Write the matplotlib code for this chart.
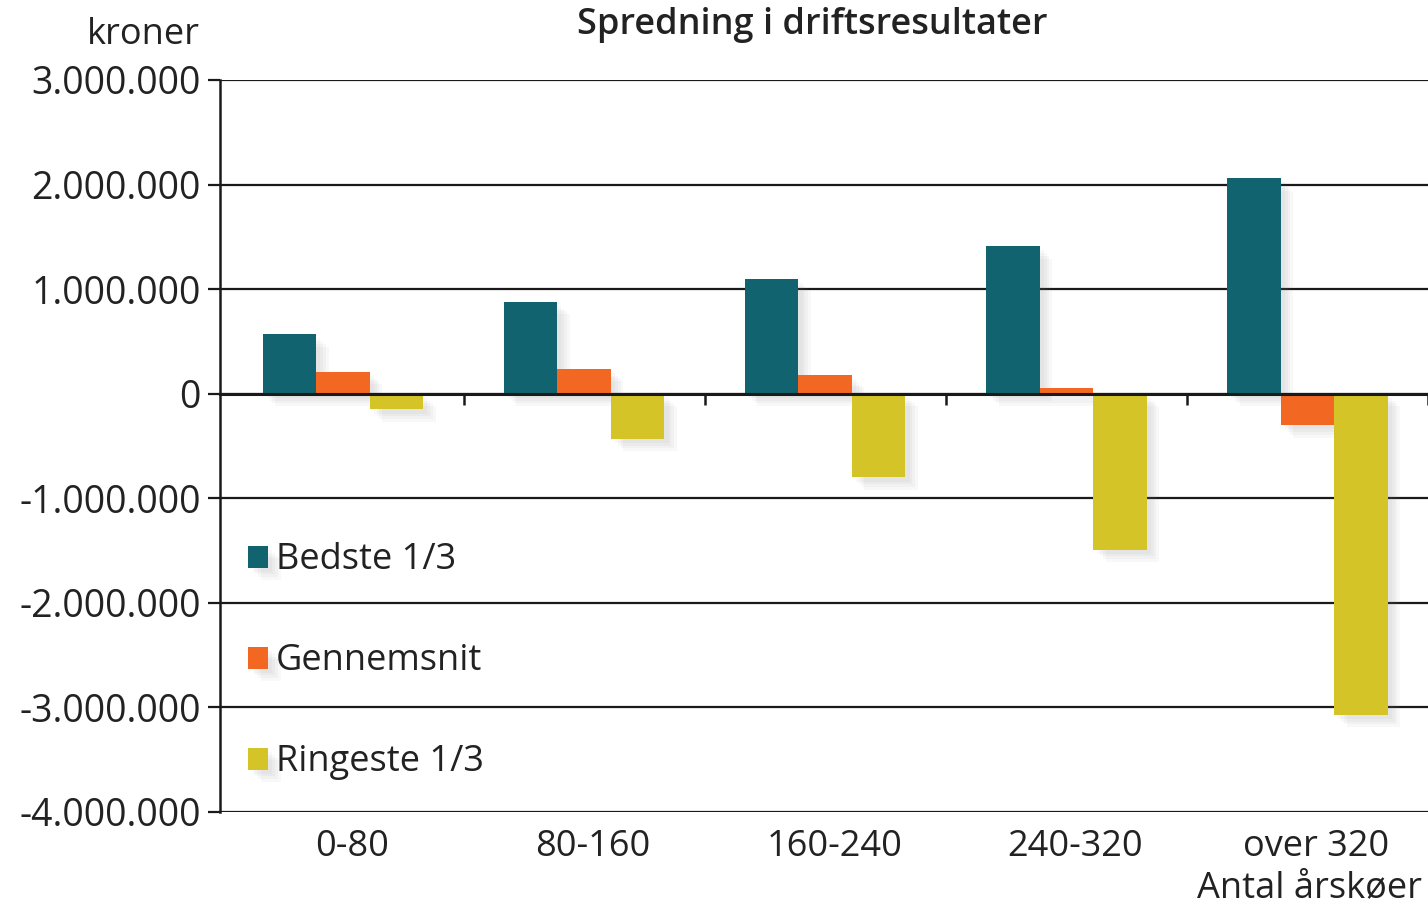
import matplotlib.pyplot as plt
import matplotlib.patheffects as pe
import matplotlib.transforms as mtransforms
import numpy as np

# Data
groups = ['0-80', '80-160', '160-240', '240-320', 'over 320']
bedste = [570000, 880000, 1100000, 1410000, 2060000]
gennemsnit = [210000, 240000, 180000, 50000, -300000]
ringeste = [-150000, -430000, -800000, -1490000, -3070000]
series_names = ['Bedste 1/3', 'Gennemsnit', 'Ringeste 1/3']
colors = ['#10636f', '#f26722', '#d4c428']
yticks = [3000000, 2000000, 1000000, 0, -1000000, -2000000, -3000000, -4000000]
ytick_labels = ['3.000.000', '2.000.000', '1.000.000', '0',
                '-1.000.000', '-2.000.000', '-3.000.000', '-4.000.000']

plt.rcParams['font.family'] = ['Open Sans', 'DejaVu Sans']
txt = '#222222'

fig = plt.figure(figsize=(14.28, 9.09), dpi=100)
ax = fig.add_axes([220 / 1428, 1 - 812 / 909, 1 - 220 / 1428, (812 - 80) / 909])

# soft-ish shadow: a few faint offset copies
shadow = [pe.SimplePatchShadow(offset=(d, -d), shadow_rgbFace='#7a7a7a', alpha=0.05)
          for d in (9, 7, 5, 3)] + [pe.Normal()]

x = np.arange(len(groups))
w = 0.222
for i, (vals, name, c) in enumerate(zip([bedste, gennemsnit, ringeste], series_names, colors)):
    b = ax.bar(x + (i - 1) * w, vals, width=w, color=c, label=name, zorder=1)
    for p in b:
        p.set_path_effects(shadow)

ax.set_xlim(-0.51, 4.5)
ax.set_ylim(-4000000, 3000000)
ax.set_yticks(yticks)
ax.set_yticklabels(ytick_labels)
ax.set_axisbelow(True)
ax.yaxis.grid(True, color='#1a1a1a', linewidth=1.6)

ax.spines['top'].set_visible(False)
ax.spines['right'].set_visible(False)
ax.spines['left'].set_linewidth(1.8)
ax.spines['left'].set_color('#1a1a1a')
ax.spines['bottom'].set_position(('data', 0))
ax.spines['bottom'].set_linewidth(2.2)
ax.spines['bottom'].set_color('#1a1a1a')
ax.spines['bottom'].set_zorder(3)

ax.set_xticks(x + 0.5)
ax.set_xticklabels([])
ax.tick_params(axis='x', direction='out', length=8, width=1.8, color='#1a1a1a')
ax.tick_params(axis='y', direction='out', length=9, width=1.6, color='#1a1a1a',
               labelsize=27, labelcolor=txt, pad=5)

# category labels sit a little right of the group centres
lab_tr = ax.get_xaxis_transform() + mtransforms.ScaledTranslation(0.09, 0, fig.dpi_scale_trans)
for i, g in enumerate(groups):
    ax.text(i, -0.048, g, transform=lab_tr, ha='center', va='center',
            fontsize=26, color=txt)

fig.text(1422 / 1428, 1 - 888 / 909, 'Antal årskøer', ha='right', va='center',
         fontsize=26, color=txt)
fig.text(200 / 1428, 1 - 35 / 909, 'kroner', ha='right', va='center',
         fontsize=26, color=txt)
fig.text(812 / 1428, 1 - 25 / 909, 'Spredning i driftsresultater', ha='center', va='center',
         fontsize=26, fontweight='semibold', color=txt)

leg = ax.legend(loc='upper left', bbox_to_anchor=(234 / 1428, 1 - 528 / 909),
                bbox_transform=fig.transFigure, frameon=False, fontsize=26,
                handlelength=0.55, handleheight=0.55, handletextpad=0.2,
                labelspacing=1.8, borderaxespad=0)
for t in leg.get_texts():
    t.set_color(txt)

fig.savefig('out.png', dpi=100, facecolor='white')
